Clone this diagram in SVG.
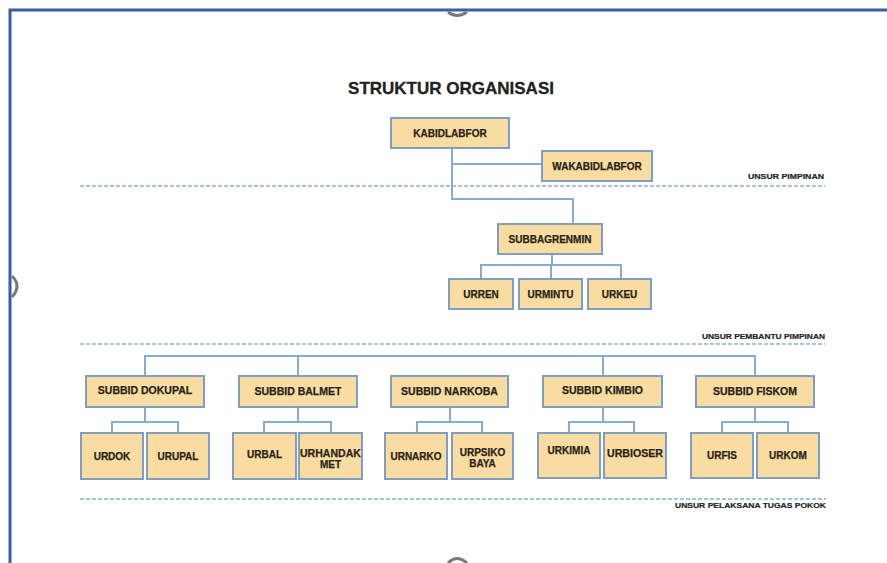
<svg xmlns="http://www.w3.org/2000/svg" width="887" height="563" viewBox="0 0 887 563">
<style>
.box{fill:#f8dca2;stroke:#7f9fc2;stroke-width:2}
.t{font-family:"Liberation Sans",Arial,sans-serif;font-weight:bold;font-size:10px;fill:#2a2418;stroke:#2a2418;stroke-width:0.25;text-anchor:middle}
.s{font-size:10.5px}
.u{font-family:"Liberation Sans",Arial,sans-serif;font-weight:bold;font-size:8px;fill:#222;stroke:#222;stroke-width:0.2}
.c{fill:none;stroke:#86acd2;stroke-width:2}
.d{fill:none;stroke:#8fb0d2;stroke-width:1.5;stroke-dasharray:4 2}
.h{fill:none;stroke:#7a7a7a;stroke-width:3}
</style>
<rect width="887" height="563" fill="#ffffff"/>
<g id="frame">
<path d="M10 563 V10 H887" fill="none" stroke="#3b5e9e" stroke-width="3"/>
<path class="h" d="M448 12 Q457 19 467 12"/>
<path class="h" d="M12 276 Q22 286 12 297"/>
<path class="h" d="M448 563 Q457 554 467 563"/>
</g>
<text x="451" y="94" font-family="'Liberation Sans',Arial,sans-serif" font-weight="bold" font-size="17" fill="#222" stroke="#222" stroke-width="0.3" text-anchor="middle">STRUKTUR ORGANISASI</text>
<g id="dividers">
<path class="d" d="M80 186 H825"/>
<path class="d" d="M80 344 H825"/>
<path class="d" d="M80 499 H826"/>
<text class="u" x="748" y="179" textLength="76" lengthAdjust="spacingAndGlyphs">UNSUR PIMPINAN</text>
<text class="u" x="702" y="339" textLength="123" lengthAdjust="spacingAndGlyphs">UNSUR PEMBANTU PIMPINAN</text>
<text class="u" x="675" y="508" textLength="151" lengthAdjust="spacingAndGlyphs">UNSUR PELAKSANA TUGAS POKOK</text>
</g>
<g id="connectors">
<path class="c" d="M452 148 V199 H573 V224"/>
<path class="c" d="M452 164 H542"/>
<path class="c" d="M552 254 V265"/>
<path class="c" d="M481 279 V265 H621 V279"/>
<path class="c" d="M551 265 V279"/>
<path class="c" d="M145 376 V356 H755 V376"/>
<path class="c" d="M298 356 V376"/>
<path class="c" d="M603 356 V376"/>
<path class="c" d="M145 407 V422"/>
<path class="c" d="M112 433 V422 H178 V433"/>
<path class="c" d="M298 407 V422"/>
<path class="c" d="M264 433 V422 H331 V433"/>
<path class="c" d="M450 407 V422"/>
<path class="c" d="M417 433 V422 H482 V433"/>
<path class="c" d="M603 407 V422"/>
<path class="c" d="M569 433 V422 H634 V433"/>
<path class="c" d="M755 407 V422"/>
<path class="c" d="M722 433 V422 H788 V433"/>
</g>
<g id="kabidlabfor"><rect class="box" x="391" y="118" width="118" height="30"/><text class="t" x="450" y="137">KABIDLABFOR</text></g>
<g id="wakabidlabfor"><rect class="box" x="542" y="151" width="110" height="30"/><text class="t" x="597" y="170">WAKABIDLABFOR</text></g>
<g id="subbagrenmin"><rect class="box" x="498" y="224" width="104" height="30"/><text class="t" x="550" y="243">SUBBAGRENMIN</text></g>
<g id="urren"><rect class="box" x="449" y="279" width="64" height="30"/><text class="t" x="481" y="298">URREN</text></g>
<g id="urmintu"><rect class="box" x="519" y="279" width="63" height="30"/><text class="t" x="550.5" y="298">URMINTU</text></g>
<g id="urkeu"><rect class="box" x="588" y="279" width="63" height="30"/><text class="t" x="619.5" y="298">URKEU</text></g>
<g id="subbid-dokupal"><rect class="box" x="86" y="376" width="118" height="31"/><text class="t s" x="145" y="394">SUBBID DOKUPAL</text></g>
<g id="subbid-balmet"><rect class="box" x="239" y="376" width="118" height="31"/><text class="t s" x="298" y="395">SUBBID BALMET</text></g>
<g id="subbid-narkoba"><rect class="box" x="391" y="376" width="117" height="31"/><text class="t s" x="449.5" y="395">SUBBID NARKOBA</text></g>
<g id="subbid-kimbio"><rect class="box" x="543" y="376" width="119" height="31"/><text class="t s" x="602.5" y="394">SUBBID KIMBIO</text></g>
<g id="subbid-fiskom"><rect class="box" x="696" y="376" width="118" height="31"/><text class="t s" x="755" y="395">SUBBID FISKOM</text></g>
<g id="urdok"><rect class="box" x="81" y="433" width="62" height="46"/><text class="t" x="112" y="460">URDOK</text></g>
<g id="urupal"><rect class="box" x="147" y="433" width="62" height="46"/><text class="t" x="178" y="460">URUPAL</text></g>
<g id="urbal"><rect class="box" x="233" y="433" width="63" height="46"/><text class="t" x="264.5" y="458">URBAL</text></g>
<g id="urhandakmet"><rect class="box" x="299" y="433" width="63" height="46"/><text class="t" x="330.5" y="457" textLength="61" lengthAdjust="spacingAndGlyphs">URHANDAK</text><text class="t" x="330.5" y="468">MET</text></g>
<g id="urnarko"><rect class="box" x="385" y="433" width="62" height="46"/><text class="t" x="416" y="460">URNARKO</text></g>
<g id="urpsikobaya"><rect class="box" x="452" y="433" width="61" height="46"/><text class="t" x="482.5" y="456">URPSIKO</text><text class="t" x="482.5" y="467">BAYA</text></g>
<g id="urkimia"><rect class="box" x="538" y="433" width="62" height="45"/><text class="t" x="569" y="454">URKIMIA</text></g>
<g id="urbioser"><rect class="box" x="604" y="433" width="62" height="45"/><text class="t" x="635" y="457" textLength="56" lengthAdjust="spacingAndGlyphs">URBIOSER</text></g>
<g id="urfis"><rect class="box" x="691" y="433" width="62" height="45"/><text class="t" x="722" y="459">URFIS</text></g>
<g id="urkom"><rect class="box" x="757" y="433" width="62" height="45"/><text class="t" x="788" y="459">URKOM</text></g>
</svg>
